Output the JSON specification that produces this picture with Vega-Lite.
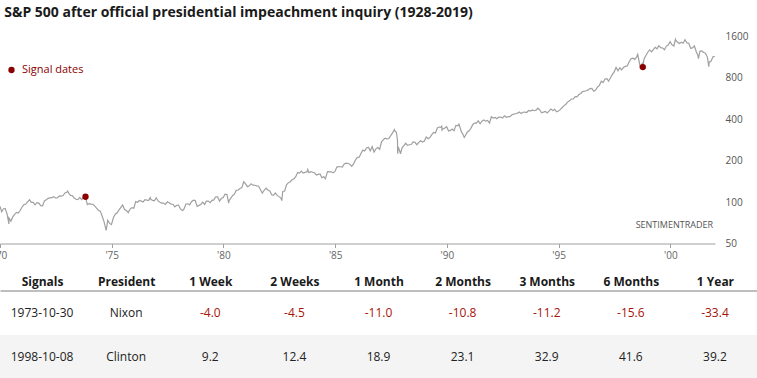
{
  "$schema": "https://vega.github.io/schema/vega-lite/v6.json",
  "padding": {"left": -7, "right": 0, "top": 5.5, "bottom": 0},
  "autosize": {"type": "pad"},
  "background": "white",
  "config": {
    "font": "Open Sans",
    "view": {"stroke": null}
  },
  "title": {
    "text": "S&P 500 after official presidential impeachment inquiry (1928-2019)",
    "anchor": "start",
    "baseline": "top",
    "fontSize": 14,
    "fontWeight": "bold",
    "color": "#1a1a1a",
    "font": "Open Sans",
    "dx": 11,
    "offset": 12
  },
  "bounds": "flush",
  "spacing": 47,
  "vconcat": [
    {
      "width": 715,
      "height": 207,
      "layer": [
        {
          "data": {"values": [
            {"d":"1970-01-02","v":93.00},
            {"d":"1970-01-28","v":85.02},{"d":"1970-02-28","v":89.50},{"d":"1970-03-28","v":89.63},{"d":"1970-04-28","v":81.52},{"d":"1970-05-26","v":69.29},{"d":"1970-05-28","v":76.55},{"d":"1970-06-28","v":72.72},{"d":"1970-07-28","v":78.05},{"d":"1970-08-28","v":81.52},{"d":"1970-09-28","v":84.21},{"d":"1970-10-28","v":83.25},{"d":"1970-11-28","v":87.20},{"d":"1970-12-28","v":92.15},
            {"d":"1971-01-28","v":95.88},{"d":"1971-02-28","v":96.75},{"d":"1971-03-28","v":100.31},{"d":"1971-04-28","v":103.95},{"d":"1971-05-28","v":99.63},{"d":"1971-06-28","v":99.70},{"d":"1971-07-28","v":95.58},{"d":"1971-08-28","v":99.03},{"d":"1971-09-28","v":98.34},{"d":"1971-10-28","v":94.23},{"d":"1971-11-28","v":93.99},{"d":"1971-12-28","v":102.09},
            {"d":"1972-01-28","v":103.94},{"d":"1972-02-28","v":106.57},{"d":"1972-03-28","v":107.20},{"d":"1972-04-28","v":107.67},{"d":"1972-05-28","v":109.53},{"d":"1972-06-28","v":107.14},{"d":"1972-07-28","v":107.39},{"d":"1972-08-28","v":111.09},{"d":"1972-09-28","v":110.55},{"d":"1972-10-28","v":111.58},{"d":"1972-11-28","v":116.67},{"d":"1972-12-28","v":118.05},
            {"d":"1973-01-11","v":120.24},{"d":"1973-01-28","v":116.03},{"d":"1973-02-28","v":111.68},{"d":"1973-03-28","v":111.52},{"d":"1973-04-28","v":106.97},{"d":"1973-05-28","v":104.95},{"d":"1973-06-28","v":104.26},{"d":"1973-07-28","v":108.22},{"d":"1973-08-28","v":104.25},{"d":"1973-09-28","v":108.43},{"d":"1973-10-26","v":111.38},{"d":"1973-10-30","v":109.33},{"d":"1973-11-28","v":95.96},{"d":"1973-12-28","v":97.55},
            {"d":"1974-01-28","v":96.57},{"d":"1974-02-28","v":96.22},{"d":"1974-03-28","v":93.98},{"d":"1974-04-28","v":90.31},{"d":"1974-05-28","v":87.28},{"d":"1974-06-28","v":86.00},{"d":"1974-07-28","v":79.31},{"d":"1974-08-28","v":72.15},{"d":"1974-09-28","v":63.54},{"d":"1974-10-03","v":62.28},{"d":"1974-10-28","v":73.90},{"d":"1974-11-28","v":69.97},{"d":"1974-12-28","v":68.56},
            {"d":"1975-01-28","v":76.98},{"d":"1975-02-28","v":81.59},{"d":"1975-03-28","v":83.36},{"d":"1975-04-28","v":87.30},{"d":"1975-05-28","v":91.15},{"d":"1975-06-28","v":95.19},{"d":"1975-07-28","v":88.75},{"d":"1975-08-28","v":86.88},{"d":"1975-09-28","v":83.87},{"d":"1975-10-28","v":89.04},{"d":"1975-11-28","v":91.24},{"d":"1975-12-28","v":90.19},
            {"d":"1976-01-28","v":100.86},{"d":"1976-02-28","v":99.71},{"d":"1976-03-28","v":102.77},{"d":"1976-04-28","v":101.64},{"d":"1976-05-28","v":100.18},{"d":"1976-06-28","v":104.28},{"d":"1976-07-28","v":103.44},{"d":"1976-08-28","v":102.91},{"d":"1976-09-21","v":107.83},{"d":"1976-09-28","v":105.24},{"d":"1976-10-28","v":102.90},{"d":"1976-11-28","v":102.10},{"d":"1976-12-28","v":107.46},
            {"d":"1977-01-28","v":102.03},{"d":"1977-02-28","v":99.82},{"d":"1977-03-28","v":98.42},{"d":"1977-04-28","v":98.44},{"d":"1977-05-28","v":96.12},{"d":"1977-06-28","v":100.48},{"d":"1977-07-28","v":98.85},{"d":"1977-08-28","v":96.77},{"d":"1977-09-28","v":96.53},{"d":"1977-10-28","v":92.34},{"d":"1977-11-28","v":94.83},{"d":"1977-12-28","v":95.10},
            {"d":"1978-01-28","v":89.25},{"d":"1978-02-28","v":87.04},{"d":"1978-03-06","v":86.90},{"d":"1978-03-28","v":89.21},{"d":"1978-04-28","v":96.83},{"d":"1978-05-28","v":97.24},{"d":"1978-06-28","v":95.53},{"d":"1978-07-28","v":100.68},{"d":"1978-08-28","v":103.29},{"d":"1978-09-28","v":102.54},{"d":"1978-10-28","v":93.15},{"d":"1978-11-28","v":94.70},{"d":"1978-12-28","v":96.11},
            {"d":"1979-01-28","v":99.93},{"d":"1979-02-28","v":96.28},{"d":"1979-03-28","v":101.59},{"d":"1979-04-28","v":101.76},{"d":"1979-05-28","v":99.08},{"d":"1979-06-28","v":102.91},{"d":"1979-07-28","v":103.81},{"d":"1979-08-28","v":109.32},{"d":"1979-09-28","v":109.32},{"d":"1979-10-28","v":101.82},{"d":"1979-11-28","v":106.16},{"d":"1979-12-28","v":107.94},
            {"d":"1980-01-28","v":114.16},{"d":"1980-02-28","v":113.66},{"d":"1980-03-27","v":98.22},{"d":"1980-03-31","v":102.09},{"d":"1980-04-28","v":106.29},{"d":"1980-05-28","v":111.24},{"d":"1980-06-28","v":114.24},{"d":"1980-07-28","v":121.67},{"d":"1980-08-28","v":122.38},{"d":"1980-09-28","v":125.46},{"d":"1980-10-28","v":127.47},{"d":"1980-11-28","v":140.52},{"d":"1980-12-28","v":135.76},
            {"d":"1981-01-28","v":129.55},{"d":"1981-02-28","v":131.27},{"d":"1981-03-28","v":136.00},{"d":"1981-04-28","v":132.81},{"d":"1981-05-28","v":132.59},{"d":"1981-06-28","v":131.21},{"d":"1981-07-28","v":130.92},{"d":"1981-08-28","v":122.79},{"d":"1981-09-28","v":116.18},{"d":"1981-10-28","v":121.89},{"d":"1981-11-28","v":126.35},{"d":"1981-12-28","v":122.55},
            {"d":"1982-01-28","v":120.40},{"d":"1982-02-28","v":113.11},{"d":"1982-03-28","v":111.96},{"d":"1982-04-28","v":116.44},{"d":"1982-05-28","v":111.88},{"d":"1982-06-28","v":109.61},{"d":"1982-07-28","v":107.09},{"d":"1982-08-12","v":102.42},{"d":"1982-08-28","v":119.51},{"d":"1982-09-28","v":120.42},{"d":"1982-10-28","v":133.71},{"d":"1982-11-28","v":138.54},{"d":"1982-12-28","v":140.64},
            {"d":"1983-01-28","v":145.30},{"d":"1983-02-28","v":148.06},{"d":"1983-03-28","v":152.96},{"d":"1983-04-28","v":164.42},{"d":"1983-05-28","v":162.39},{"d":"1983-06-28","v":168.11},{"d":"1983-07-28","v":162.56},{"d":"1983-08-28","v":164.40},{"d":"1983-09-28","v":166.07},{"d":"1983-10-10","v":172.65},{"d":"1983-10-28","v":163.55},{"d":"1983-11-28","v":166.40},{"d":"1983-12-28","v":164.93},
            {"d":"1984-01-28","v":163.41},{"d":"1984-02-28","v":157.06},{"d":"1984-03-28","v":159.18},{"d":"1984-04-28","v":160.05},{"d":"1984-05-28","v":150.55},{"d":"1984-06-28","v":153.18},{"d":"1984-07-24","v":147.82},{"d":"1984-07-31","v":150.66},{"d":"1984-08-28","v":166.68},{"d":"1984-09-28","v":166.10},{"d":"1984-10-28","v":166.09},{"d":"1984-11-28","v":163.58},{"d":"1984-12-28","v":167.24},
            {"d":"1985-01-28","v":179.63},{"d":"1985-02-28","v":181.18},{"d":"1985-03-28","v":180.66},{"d":"1985-04-28","v":179.83},{"d":"1985-05-28","v":189.55},{"d":"1985-06-28","v":191.85},{"d":"1985-07-28","v":190.92},{"d":"1985-08-28","v":188.63},{"d":"1985-09-28","v":182.08},{"d":"1985-10-28","v":189.82},{"d":"1985-11-28","v":202.17},{"d":"1985-12-28","v":211.28},
            {"d":"1986-01-28","v":211.78},{"d":"1986-02-28","v":226.92},{"d":"1986-03-28","v":238.90},{"d":"1986-04-28","v":235.52},{"d":"1986-05-28","v":247.35},{"d":"1986-06-28","v":250.84},{"d":"1986-07-28","v":236.12},{"d":"1986-08-28","v":252.93},{"d":"1986-09-28","v":231.32},{"d":"1986-10-28","v":243.98},{"d":"1986-11-28","v":249.22},{"d":"1986-12-28","v":242.17},
            {"d":"1987-01-28","v":274.08},{"d":"1987-02-28","v":284.20},{"d":"1987-03-28","v":291.70},{"d":"1987-04-28","v":288.36},{"d":"1987-05-28","v":290.10},{"d":"1987-06-28","v":304.00},{"d":"1987-07-28","v":318.66},{"d":"1987-08-25","v":336.77},{"d":"1987-08-31","v":329.80},{"d":"1987-09-28","v":321.83},{"d":"1987-10-16","v":282.70},{"d":"1987-10-19","v":224.84},{"d":"1987-10-28","v":251.79},{"d":"1987-11-28","v":230.30},{"d":"1987-12-04","v":223.92},{"d":"1987-12-28","v":247.08},
            {"d":"1988-01-28","v":257.07},{"d":"1988-02-28","v":267.82},{"d":"1988-03-28","v":258.89},{"d":"1988-04-28","v":261.33},{"d":"1988-05-28","v":262.16},{"d":"1988-06-28","v":273.50},{"d":"1988-07-28","v":272.02},{"d":"1988-08-28","v":261.52},{"d":"1988-09-28","v":271.91},{"d":"1988-10-28","v":278.97},{"d":"1988-11-28","v":273.70},{"d":"1988-12-28","v":277.72},
            {"d":"1989-01-28","v":297.47},{"d":"1989-02-28","v":288.86},{"d":"1989-03-28","v":294.87},{"d":"1989-04-28","v":309.64},{"d":"1989-05-28","v":320.52},{"d":"1989-06-28","v":317.98},{"d":"1989-07-28","v":346.08},{"d":"1989-08-28","v":351.45},{"d":"1989-09-28","v":349.15},{"d":"1989-10-09","v":359.80},{"d":"1989-10-13","v":333.65},{"d":"1989-10-28","v":340.36},{"d":"1989-11-28","v":345.99},{"d":"1989-12-28","v":353.40},
            {"d":"1990-01-28","v":329.08},{"d":"1990-02-28","v":331.89},{"d":"1990-03-28","v":339.94},{"d":"1990-04-28","v":330.80},{"d":"1990-05-28","v":361.23},{"d":"1990-06-28","v":358.02},{"d":"1990-07-16","v":368.95},{"d":"1990-07-28","v":356.15},{"d":"1990-08-28","v":322.56},{"d":"1990-09-28","v":306.05},{"d":"1990-10-11","v":295.46},{"d":"1990-10-28","v":304.00},{"d":"1990-11-28","v":322.22},{"d":"1990-12-28","v":330.22},
            {"d":"1991-01-28","v":343.93},{"d":"1991-02-28","v":367.07},{"d":"1991-03-28","v":375.22},{"d":"1991-04-28","v":375.34},{"d":"1991-05-28","v":389.83},{"d":"1991-06-28","v":371.16},{"d":"1991-07-28","v":387.81},{"d":"1991-08-28","v":395.43},{"d":"1991-09-28","v":387.86},{"d":"1991-10-28","v":392.46},{"d":"1991-11-28","v":375.22},{"d":"1991-12-28","v":417.09},
            {"d":"1992-01-28","v":408.79},{"d":"1992-02-28","v":412.70},{"d":"1992-03-28","v":403.69},{"d":"1992-04-28","v":414.95},{"d":"1992-05-28","v":415.35},{"d":"1992-06-28","v":408.14},{"d":"1992-07-28","v":424.21},{"d":"1992-08-28","v":414.03},{"d":"1992-09-28","v":417.80},{"d":"1992-10-28","v":418.68},{"d":"1992-11-28","v":431.35},{"d":"1992-12-28","v":435.71},
            {"d":"1993-01-28","v":438.78},{"d":"1993-02-28","v":443.38},{"d":"1993-03-28","v":451.67},{"d":"1993-04-28","v":440.19},{"d":"1993-05-28","v":450.19},{"d":"1993-06-28","v":450.53},{"d":"1993-07-28","v":448.13},{"d":"1993-08-28","v":463.56},{"d":"1993-09-28","v":458.93},{"d":"1993-10-28","v":467.83},{"d":"1993-11-28","v":461.79},{"d":"1993-12-28","v":466.45},
            {"d":"1994-01-28","v":481.61},{"d":"1994-02-28","v":467.14},{"d":"1994-03-28","v":445.77},{"d":"1994-04-28","v":450.91},{"d":"1994-05-28","v":456.50},{"d":"1994-06-28","v":444.27},{"d":"1994-07-28","v":458.26},{"d":"1994-08-28","v":475.49},{"d":"1994-09-28","v":462.69},{"d":"1994-10-28","v":472.35},{"d":"1994-11-28","v":453.69},{"d":"1994-12-28","v":459.27},
            {"d":"1995-01-28","v":470.42},{"d":"1995-02-28","v":487.39},{"d":"1995-03-28","v":500.71},{"d":"1995-04-28","v":514.71},{"d":"1995-05-28","v":533.40},{"d":"1995-06-28","v":544.75},{"d":"1995-07-28","v":562.06},{"d":"1995-08-28","v":561.88},{"d":"1995-09-28","v":584.41},{"d":"1995-10-28","v":581.50},{"d":"1995-11-28","v":605.37},{"d":"1995-12-28","v":615.93},
            {"d":"1996-01-28","v":636.02},{"d":"1996-02-28","v":640.43},{"d":"1996-03-28","v":645.50},{"d":"1996-04-28","v":654.17},{"d":"1996-05-28","v":669.12},{"d":"1996-06-28","v":670.63},{"d":"1996-07-28","v":639.95},{"d":"1996-08-28","v":651.99},{"d":"1996-09-28","v":687.31},{"d":"1996-10-28","v":705.27},{"d":"1996-11-28","v":757.02},{"d":"1996-12-28","v":740.74},
            {"d":"1997-01-28","v":786.16},{"d":"1997-02-28","v":790.82},{"d":"1997-03-28","v":757.12},{"d":"1997-04-28","v":801.34},{"d":"1997-05-28","v":848.28},{"d":"1997-06-28","v":885.14},{"d":"1997-07-28","v":954.31},{"d":"1997-08-28","v":899.47},{"d":"1997-09-28","v":947.28},{"d":"1997-10-28","v":914.62},{"d":"1997-11-28","v":955.40},{"d":"1997-12-28","v":970.43},
            {"d":"1998-01-28","v":980.28},{"d":"1998-02-28","v":1049.34},{"d":"1998-03-28","v":1101.75},{"d":"1998-04-28","v":1111.75},{"d":"1998-05-28","v":1090.82},{"d":"1998-06-28","v":1133.84},{"d":"1998-07-17","v":1186.75},{"d":"1998-07-28","v":1120.67},{"d":"1998-08-28","v":957.28},{"d":"1998-09-28","v":1017.01},{"d":"1998-10-08","v":959.44},{"d":"1998-10-28","v":1098.67},{"d":"1998-11-28","v":1163.63},{"d":"1998-12-28","v":1229.23},
            {"d":"1999-01-28","v":1279.64},{"d":"1999-02-28","v":1238.33},{"d":"1999-03-28","v":1286.37},{"d":"1999-04-28","v":1335.18},{"d":"1999-05-28","v":1301.84},{"d":"1999-06-28","v":1372.71},{"d":"1999-07-28","v":1328.72},{"d":"1999-08-28","v":1320.41},{"d":"1999-09-28","v":1282.71},{"d":"1999-10-28","v":1362.93},{"d":"1999-11-28","v":1388.91},{"d":"1999-12-28","v":1469.25},
            {"d":"2000-01-28","v":1394.46},{"d":"2000-02-28","v":1366.42},{"d":"2000-03-24","v":1527.46},{"d":"2000-03-31","v":1498.58},{"d":"2000-04-28","v":1452.43},{"d":"2000-05-28","v":1420.60},{"d":"2000-06-28","v":1454.60},{"d":"2000-07-28","v":1430.83},{"d":"2000-08-28","v":1517.68},{"d":"2000-09-28","v":1436.51},{"d":"2000-10-28","v":1429.40},{"d":"2000-11-28","v":1314.95},{"d":"2000-12-28","v":1320.28},
            {"d":"2001-01-28","v":1366.01},{"d":"2001-02-28","v":1239.94},{"d":"2001-03-28","v":1160.33},{"d":"2001-04-04","v":1103.25},{"d":"2001-04-28","v":1249.46},{"d":"2001-05-28","v":1255.82},{"d":"2001-06-28","v":1224.42},{"d":"2001-07-28","v":1211.23},{"d":"2001-08-28","v":1133.58},{"d":"2001-09-21","v":965.80},{"d":"2001-09-28","v":1040.94},{"d":"2001-10-28","v":1059.78},{"d":"2001-11-28","v":1139.45},{"d":"2001-12-28","v":1148.08}
          ]},
          "mark": {"type": "line", "color": "#a0a0a0", "strokeWidth": 1.2},
          "encoding": {
            "x": {
              "field": "d", "type": "temporal",
              "scale": {"domain": [{"year": 1970, "month": 1, "date": 1}, {"year": 2001, "month": 12, "date": 31}]},
              "axis": {
                "title": null, "format": "'%y", "formatType": "time",
                "tickCount": {"interval": "year", "step": 5}, "labelFlush": false,
                "grid": false, "domainColor": "#a0a0a0", "tickColor": "#a0a0a0", "tickSize": 4,
                "labelColor": "#666666", "labelFontSize": 10, "labelPadding": 3, "labelFont": "Open Sans"
              }
            },
            "y": {
              "field": "v", "type": "quantitative",
              "scale": {"type": "log", "domain": [50, 1600], "nice": false},
              "axis": {
                "title": null, "orient": "right", "values": [50, 100, 200, 400, 800, 1600], "format": "d",
                "grid": false, "domain": false, "ticks": false, "labelPadding": 10,
                "labelColor": "#555555", "labelFontSize": 10, "labelFont": "Open Sans"
              }
            }
          }
        },
        {
          "data": {"values": [
            {"d": "1973-10-30", "v": 109.33, "k": "Signal dates"},
            {"d": "1998-10-08", "v": 959.44, "k": "Signal dates"}
          ]},
          "mark": {"type": "point", "filled": true, "size": 40, "opacity": 1, "shape": "circle"},
          "encoding": {
            "x": {"field": "d", "type": "temporal"},
            "y": {"field": "v", "type": "quantitative"},
            "color": {
              "field": "k", "type": "nominal",
              "scale": {"range": ["#8b0000"]},
              "legend": {
                "title": null, "orient": "none", "legendX": 6, "legendY": 28,
                "labelColor": "#8b0000", "labelFontSize": 11, "labelFont": "Open Sans",
                "symbolSize": 40, "symbolType": "circle", "labelOffset": 5
              }
            }
          }
        },
        {
          "data": {"values": [{"d": "2001-11-28", "v": 68, "t": "SENTIMENTRADER"}]},
          "mark": {"type": "text", "align": "right", "baseline": "middle", "fontSize": 9, "color": "#555555", "font": "Open Sans"},
          "encoding": {
            "x": {"field": "d", "type": "temporal"},
            "y": {"field": "v", "type": "quantitative"},
            "text": {"field": "t"}
          }
        }
      ]
    },
    {
      "width": 757,
      "height": 89,
      "layer": [
        {
          "data": {"values": [{"s": "1998-10-08"}]},
          "mark": {"type": "rect", "color": "#f4f4f4"},
          "encoding": {
            "y": {"field": "s", "type": "nominal", "scale": {"domain": ["1973-10-30", "1998-10-08"], "paddingInner": 0, "paddingOuter": 0}, "axis": null}
          }
        },
        {
          "data": {"values": [
            {"s": "1973-10-30", "c": "Signals", "t": "1973-10-30"},
            {"s": "1973-10-30", "c": "President", "t": "Nixon"},
            {"s": "1973-10-30", "c": "1 Week", "t": "-4.0"},
            {"s": "1973-10-30", "c": "2 Weeks", "t": "-4.5"},
            {"s": "1973-10-30", "c": "1 Month", "t": "-11.0"},
            {"s": "1973-10-30", "c": "2 Months", "t": "-10.8"},
            {"s": "1973-10-30", "c": "3 Months", "t": "-11.2"},
            {"s": "1973-10-30", "c": "6 Months", "t": "-15.6"},
            {"s": "1973-10-30", "c": "1 Year", "t": "-33.4"},
            {"s": "1998-10-08", "c": "Signals", "t": "1998-10-08"},
            {"s": "1998-10-08", "c": "President", "t": "Clinton"},
            {"s": "1998-10-08", "c": "1 Week", "t": "9.2"},
            {"s": "1998-10-08", "c": "2 Weeks", "t": "12.4"},
            {"s": "1998-10-08", "c": "1 Month", "t": "18.9"},
            {"s": "1998-10-08", "c": "2 Months", "t": "23.1"},
            {"s": "1998-10-08", "c": "3 Months", "t": "32.9"},
            {"s": "1998-10-08", "c": "6 Months", "t": "41.6"},
            {"s": "1998-10-08", "c": "1 Year", "t": "39.2"}
          ]},
          "mark": {"type": "text", "fontSize": 12, "font": "Open Sans", "baseline": "middle"},
          "encoding": {
            "x": {
              "field": "c", "type": "nominal",
              "scale": {"domain": ["Signals", "President", "1 Week", "2 Weeks", "1 Month", "2 Months", "3 Months", "6 Months", "1 Year"], "paddingInner": 0, "paddingOuter": 0},
              "axis": {
                "orient": "top", "title": null, "labelAngle": 0, "ticks": false,
                "domainColor": "#a8a8a8", "domainWidth": 1.5,
                "labelFontSize": 12, "labelFontWeight": "bold", "labelColor": "#1a1a1a", "labelFont": "Open Sans",
                "labelBaseline": "alphabetic", "labelPadding": 5
              }
            },
            "y": {"field": "s", "type": "nominal", "scale": {"domain": ["1973-10-30", "1998-10-08"], "paddingInner": 0, "paddingOuter": 0}, "axis": null},
            "text": {"field": "t"},
            "color": {"condition": {"test": "indexof(datum.t, '-') == 0", "value": "#a8140a"}, "value": "#222222"}
          }
        }
      ]
    }
  ]
}
